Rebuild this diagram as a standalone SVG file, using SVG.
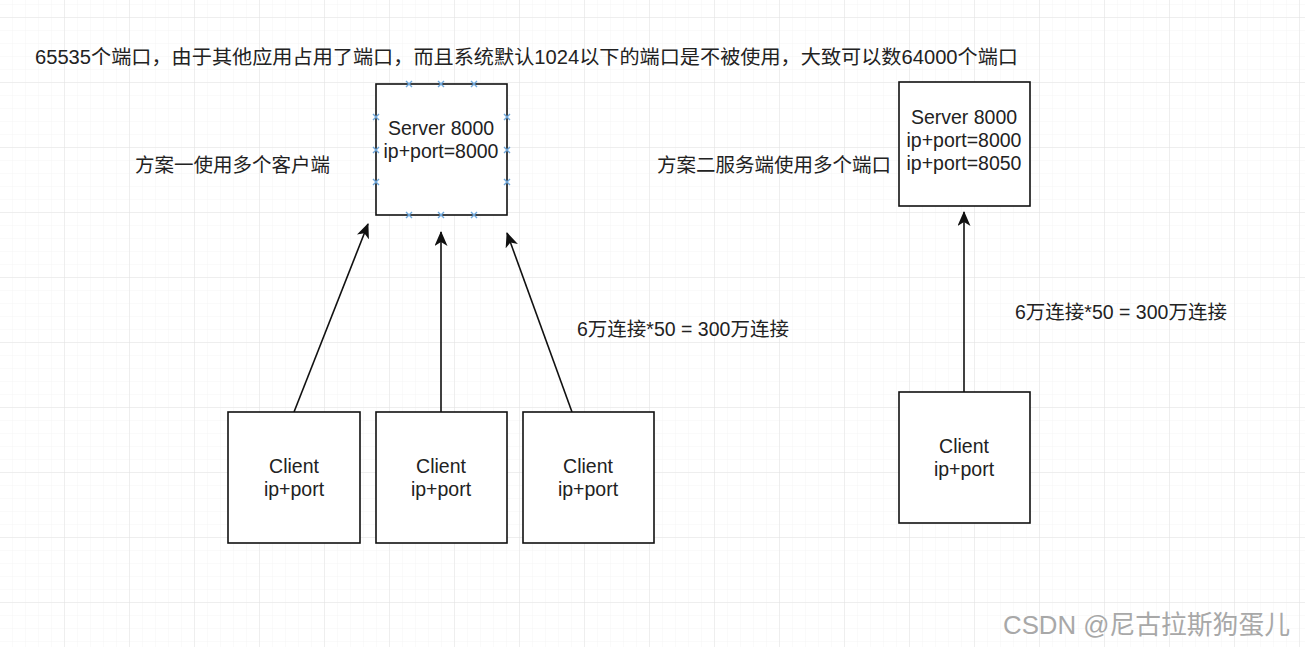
<svg xmlns="http://www.w3.org/2000/svg" width="1305" height="647" viewBox="0 0 1305 647">
<defs>
<pattern id="minor" width="13" height="13" patternUnits="userSpaceOnUse" x="0" y="5">
<path d="M13 0V13M0 13H13" fill="none" stroke="#f4f4f4" stroke-width="1"/>
</pattern>
<pattern id="major" width="65" height="65" patternUnits="userSpaceOnUse" x="0" y="18">
<path d="M65 0V65M0 65H65" fill="none" stroke="#e2e2e2" stroke-width="1"/>
</pattern>
<marker id="arr" viewBox="0 0 15 13" refX="14" refY="6.5" markerWidth="15" markerHeight="13" markerUnits="userSpaceOnUse" orient="auto">
<path d="M0 0L15 6.5L0 13L4 6.5Z" fill="#111"/>
</marker>
<g id="xm"><path d="M-3 -3L3 3M-3 3L3 -3" stroke="#6fa8dc" stroke-width="1.4"/></g>
</defs>
<style>
.box{fill:#fff;stroke:#111;stroke-width:1.6}
.t{font-family:"Liberation Sans","Noto Sans CJK SC",sans-serif;font-size:19.5px;fill:#222}
.c{text-anchor:middle}
.edge{fill:none;stroke:#111;stroke-width:1.6;marker-end:url(#arr)}
.wm{font-family:"Liberation Sans","Noto Sans CJK SC",sans-serif;font-size:26px;fill:#a8a8a8;stroke:#fff;stroke-width:0.6;paint-order:stroke}
</style>
<rect width="1305" height="647" fill="#fff"/>
<rect width="1305" height="647" fill="url(#minor)"/>
<rect width="1305" height="647" fill="url(#major)"/>

<text class="t" x="35" y="64" textLength="983" lengthAdjust="spacingAndGlyphs">65535个端口，由于其他应用占用了端口，而且系统默认1024以下的端口是不被使用，大致可以数64000个端口</text>

<text class="t" x="135" y="172">方案一使用多个客户端</text>
<text class="t" x="657" y="172">方案二服务端使用多个端口</text>
<text class="t" x="577" y="336">6万连接*50 = 300万连接</text>
<text class="t" x="1015" y="319">6万连接*50 = 300万连接</text>

<g id="connectors">
<path class="edge" d="M294 412L368 224"/>
<path class="edge" d="M441 412L441 232"/>
<path class="edge" d="M572 412L507 233"/>
<path class="edge" d="M964 392L964 212"/>
</g>

<g id="server1">
<rect class="box" x="376" y="84" width="131" height="131"/>
<text class="t c" x="441" y="135">Server 8000</text>
<text class="t c" x="441" y="158">ip+port=8000</text>
<use href="#xm" x="409" y="84"/><use href="#xm" x="441" y="84"/><use href="#xm" x="474" y="84"/>
<use href="#xm" x="409" y="215"/><use href="#xm" x="441" y="215"/><use href="#xm" x="474" y="215"/>
<use href="#xm" x="376" y="117"/><use href="#xm" x="376" y="150"/><use href="#xm" x="376" y="182"/>
<use href="#xm" x="507" y="117"/><use href="#xm" x="507" y="150"/><use href="#xm" x="507" y="182"/>
</g>

<g id="server2">
<rect class="box" x="899" y="82" width="131" height="124"/>
<text class="t c" x="964" y="124">Server 8000</text>
<text class="t c" x="964" y="147">ip+port=8000</text>
<text class="t c" x="964" y="170">ip+port=8050</text>
</g>

<g id="client1">
<rect class="box" x="228" y="412" width="132" height="131"/>
<text class="t c" x="294" y="473">Client</text>
<text class="t c" x="294" y="496">ip+port</text>
</g>
<g id="client2">
<rect class="box" x="376" y="412" width="131" height="131"/>
<text class="t c" x="441" y="473">Client</text>
<text class="t c" x="441" y="496">ip+port</text>
</g>
<g id="client3">
<rect class="box" x="523" y="412" width="131" height="131"/>
<text class="t c" x="588" y="473">Client</text>
<text class="t c" x="588" y="496">ip+port</text>
</g>
<g id="client4">
<rect class="box" x="899" y="392" width="131" height="131"/>
<text class="t c" x="964" y="453">Client</text>
<text class="t c" x="964" y="476">ip+port</text>
</g>

<text class="wm" x="1003" y="634" textLength="287" lengthAdjust="spacingAndGlyphs">CSDN @尼古拉斯狗蛋儿</text>
</svg>
